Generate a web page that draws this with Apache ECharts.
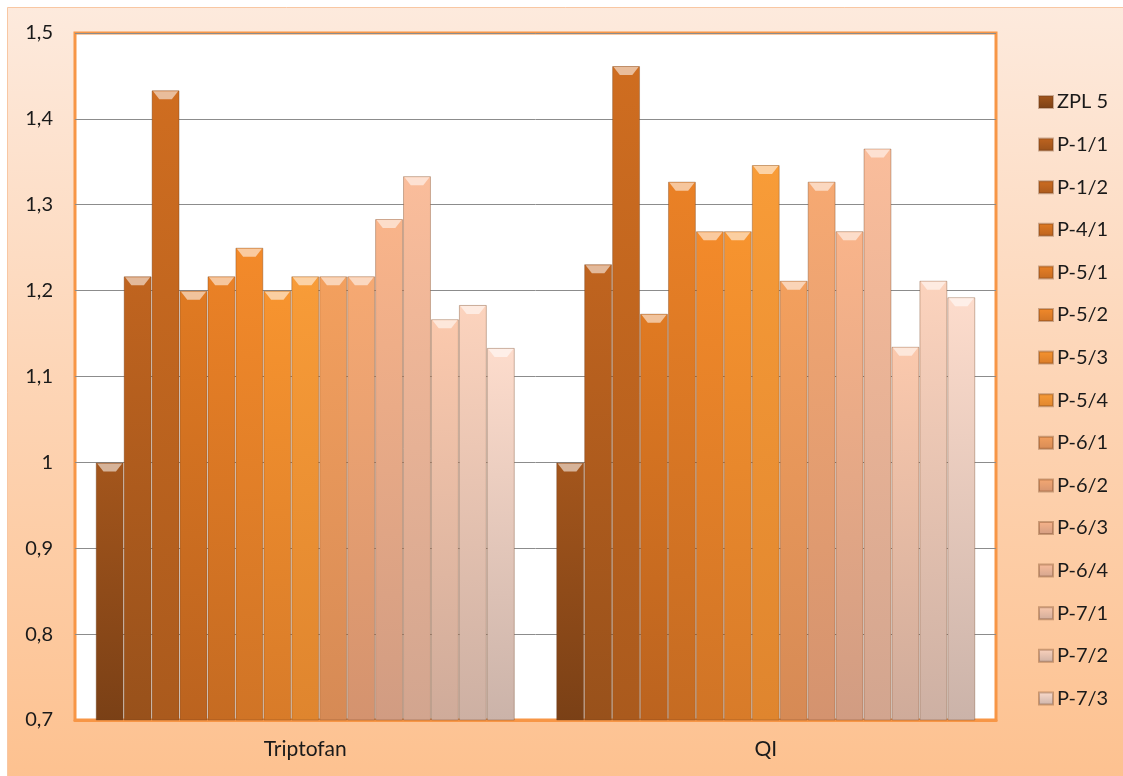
<!DOCTYPE html>
<html>
<head>
<meta charset="utf-8">
<script src="https://cdn.jsdelivr.net/npm/echarts@6/dist/echarts.min.js"></script>
<style>
html,body{margin:0;padding:0;background:#fff;}
#chart{width:1123px;height:776px;}
</style>
</head>
<body>
<div id="chart"></div>
<script>
const categories = ['Triptofan', 'QI'];
const seriesNames = ['ZPL 5','P-1/1','P-1/2','P-4/1','P-5/1','P-5/2','P-5/3','P-5/4','P-6/1','P-6/2','P-6/3','P-6/4','P-7/1','P-7/2','P-7/3'];
const triptofanValues = [1.0, 1.2167, 1.4333, 1.2, 1.2167, 1.25, 1.2, 1.2167, 1.2167, 1.2167, 1.2833, 1.3333, 1.1667, 1.1833, 1.1333];
const qiValues = [1.0, 1.2308, 1.4615, 1.1731, 1.3269, 1.2692, 1.2692, 1.3462, 1.2115, 1.3269, 1.2692, 1.3654, 1.1346, 1.2115, 1.1923];
const yMin = 0.7, yMax = 1.5, yStep = 0.1;

// palette (style only)
const topColors = ['#a4561c','#c0641f','#cf6d20','#e07a22','#ea8126','#f38a2a','#f7942f','#f89c38','#f3a05e','#f6a972','#f9b48a','#fabd9b','#fbc9ad','#fcd3bd','#fddccc'];
const bottomColors = ['#7a4016','#98511b','#aa5a1d','#bb631f','#c56b22','#d07426','#d87b29','#df852e','#d68a55','#d4936f','#d19c82','#d2a58f','#cfab9a','#cdb0a3','#cbb3a9'];

function lighten(hex, t) {
  const n = parseInt(hex.slice(1), 16);
  const r = (n >> 16) & 255, g = (n >> 8) & 255, b = n & 255;
  const m = c => Math.round(c + (255 - c) * t);
  return 'rgb(' + m(r) + ',' + m(g) + ',' + m(b) + ')';
}

const chart = echarts.init(document.getElementById('chart'), null, {renderer: 'canvas'});

const series = seriesNames.map((name, i) => ({
  name: name,
  type: 'bar',
  data: [triptofanValues[i], qiValues[i]],
  barGap: '0%',
  barCategoryGap: '9%',
  itemStyle: {
    color: new echarts.graphic.LinearGradient(0, 0, 0, 1, [
      {offset: 0, color: topColors[i]},
      {offset: 1, color: bottomColors[i]}
    ]),
    borderColor: 'rgba(110,60,25,0.35)',
    borderWidth: 1
  },
  markPoint: {
    silent: true,
    symbol: 'path://M0,0 L20,0 L15,6 L5,6 Z',
    symbolSize: [25, 8],
    symbolOffset: [0, 5],
    label: {show: false},
    itemStyle: {color: lighten(topColors[i], 0.55)},
    data: [
      {coord: [0, triptofanValues[i]]},
      {coord: [1, qiValues[i]]}
    ]
  }
}));

const fmt = v => String(Number(v.toFixed(1))).replace('.', ',');

chart.setOption({
  animation: false,
  textStyle: {fontFamily: 'Lato'},
  graphic: [{
    type: 'rect',
    z: -10,
    silent: true,
    shape: {x: 7.5, y: 7.5, width: 1130, height: 780},
    style: {
      fill: new echarts.graphic.LinearGradient(0, 0, 0, 1, [
        {offset: 0, color: '#fdeadd'},
        {offset: 0.5, color: '#fdd4b4'},
        {offset: 1, color: '#fdc18f'}
      ]),
      stroke: '#f8c7a3',
      lineWidth: 1
    }
  }],
  grid: {
    left: 75, right: 127, top: 33, bottom: 56,
    show: true,
    backgroundColor: '#ffffff',
    borderColor: '#f79646',
    borderWidth: 3
  },
  legend: {
    orient: 'vertical',
    left: 1033,
    top: 86,
    icon: 'rect',
    itemWidth: 14,
    itemHeight: 12,
    itemGap: 20.6,
    textStyle: {fontFamily: 'Lato', fontSize: 20, color: '#1a1a1a', lineHeight: 22, padding: [0, 0, 0, -1]},
    data: seriesNames
  },
  xAxis: {
    type: 'category',
    data: categories,
    axisLine: {show: true, lineStyle: {color: '#f79646', width: 3}},
    axisTick: {show: false},
    axisLabel: {fontFamily: 'Lato', fontSize: 21, color: '#1a1a1a', margin: 19}
  },
  yAxis: {
    type: 'value',
    min: yMin,
    max: yMax,
    interval: yStep,
    axisLine: {show: false},
    axisTick: {show: false},
    splitLine: {show: true, lineStyle: {color: '#8c8c8c', width: 1}},
    axisLabel: {fontFamily: 'Lato', fontSize: 20, color: '#1a1a1a', margin: 22, formatter: fmt}
  },
  series: series
});
</script>
</body>
</html>
